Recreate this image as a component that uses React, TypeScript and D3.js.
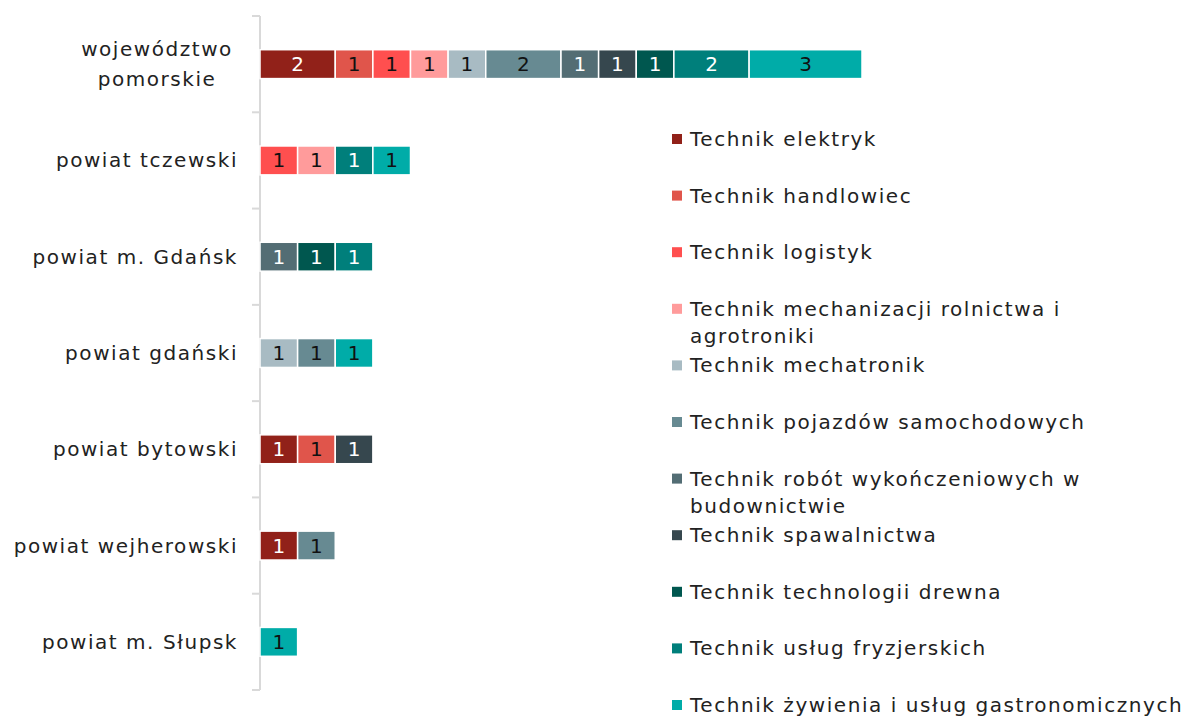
import React from "react";
import * as d3 from "d3";

const categories = [
  "województwo\npomorskie",
  "powiat tczewski",
  "powiat m. Gdańsk",
  "powiat gdański",
  "powiat bytowski",
  "powiat wejherowski",
  "powiat m. Słupsk",
];

const seriesNames = [
  "Technik elektryk",
  "Technik handlowiec",
  "Technik logistyk",
  "Technik mechanizacji rolnictwa i\nagrotroniki",
  "Technik mechatronik",
  "Technik pojazdów samochodowych",
  "Technik robót wykończeniowych w\nbudownictwie",
  "Technik spawalnictwa",
  "Technik technologii drewna",
  "Technik usług fryzjerskich",
  "Technik żywienia i usług gastronomicznych",
];

const seriesColors = [
  "#912119", "#E0554B", "#FF4F4F", "#FF9B9B", "#A8BBC3", "#678A92",
  "#536D74", "#36474E", "#00574F", "#007F7B", "#00ACA8",
];
const labelColors = [
  "#ffffff", "#111111", "#111111", "#111111", "#111111", "#111111",
  "#ffffff", "#ffffff", "#ffffff", "#ffffff", "#111111",
];

// values per series, per category (same order as categories)
const elektryk = [2, 0, 0, 0, 1, 1, 0];
const handlowiec = [1, 0, 0, 0, 1, 0, 0];
const logistyk = [1, 1, 0, 0, 0, 0, 0];
const mechanizacji = [1, 1, 0, 0, 0, 0, 0];
const mechatronik = [1, 0, 0, 1, 0, 0, 0];
const pojazdow = [2, 0, 0, 1, 0, 1, 0];
const robot = [1, 0, 1, 0, 0, 0, 0];
const spawalnictwa = [1, 0, 0, 0, 1, 0, 0];
const drewna = [1, 0, 1, 0, 0, 0, 0];
const fryzjerskich = [2, 1, 1, 0, 0, 0, 0];
const zywienia = [3, 1, 0, 1, 0, 0, 1];

const seriesValues = [
  elektryk, handlowiec, logistyk, mechanizacji, mechatronik, pojazdow,
  robot, spawalnictwa, drewna, fryzjerskich, zywienia,
];

const W = 1186;
const H = 718;
const FONT = "'DejaVu Sans', sans-serif";
const FS = 20;
const LS = 1.55;

export default function App() {
  const keys = seriesNames.map((_, i) => "s" + i);
  const rows = categories.map((c, ci) => {
    const r: any = { cat: c };
    keys.forEach((k, si) => (r[k] = seriesValues[si][ci]));
    return r;
  });
  const stacked = d3.stack<any>().keys(keys)(rows);

  const y = d3
    .scaleBand<string>()
    .domain(categories)
    .range([16, 690])
    .paddingInner(0.7)
    .paddingOuter(0.35);
  const x = d3.scaleLinear().domain([0, 16]).range([260, 862]);
  const step = y.step();
  const tickYs = d3.range(categories.length + 1).map((i) => 16 + i * step);

  const legendX = 672;
  const legendY0 = 139;
  const legendStep = 56.6;

  return (
    <svg width={W} height={H} style={{ position: "absolute", left: 0, top: 0 }}>
      <rect width={W} height={H} fill="#fff" />
      {/* axis */}
      <line x1={260} x2={260} y1={16} y2={690} stroke="#D9D9D9" strokeWidth={2} />
      {tickYs.map((t, i) => (
        <line key={i} x1={252} x2={260} y1={t} y2={t} stroke="#D9D9D9" strokeWidth={2} />
      ))}
      {/* category labels */}
      {categories.map((c) => {
        const lines = c.split("\n");
        const cy = (y(c) as number) + y.bandwidth() / 2;
        const lh = 30;
        const multi = lines.length > 1;
        return (
          <text
            key={c}
            textAnchor={multi ? "middle" : "end"}
            fontFamily={FONT}
            fontSize={FS}
            letterSpacing={LS}
            fill="#222"
          >
            {lines.map((l, li) => (
              <tspan
                key={li}
                x={multi ? 157 : 238}
                y={cy + (li - (lines.length - 1) / 2) * lh}
                dy="0.35em"
              >
                {l}
              </tspan>
            ))}
          </text>
        );
      })}
      {/* bars */}
      {stacked.map((s, si) =>
        s.map((d, ci) => {
          const v = d[1] - d[0];
          if (v <= 0) return null;
          const x0 = x(d[0]);
          const x1 = x(d[1]);
          const yy = y(categories[ci]) as number;
          return (
            <g key={si + "-" + ci}>
              <rect
                x={x0}
                y={yy}
                width={x1 - x0}
                height={y.bandwidth()}
                fill={seriesColors[si]}
                stroke="#fff"
                strokeWidth={1.5}
              />
              <text
                x={(x0 + x1) / 2}
                y={yy + y.bandwidth() / 2}
                dy="0.35em"
                textAnchor="middle"
                fontFamily={FONT}
                fontSize={FS}
                fill={labelColors[si]}
              >
                {v}
              </text>
            </g>
          );
        })
      )}
      {/* legend */}
      {seriesNames.map((n, i) => {
        const cy = legendY0 + i * legendStep;
        const lines = n.split("\n");
        return (
          <g key={n}>
            <rect x={legendX} y={cy - 5} width={10} height={10} fill={seriesColors[i]} />
            <text fontFamily={FONT} fontSize={FS} letterSpacing={LS} fill="#222">
              {lines.map((l, li) => (
                <tspan key={li} x={690} y={cy + li * 27} dy="0.35em">
                  {l}
                </tspan>
              ))}
            </text>
          </g>
        );
      })}
    </svg>
  );
}
